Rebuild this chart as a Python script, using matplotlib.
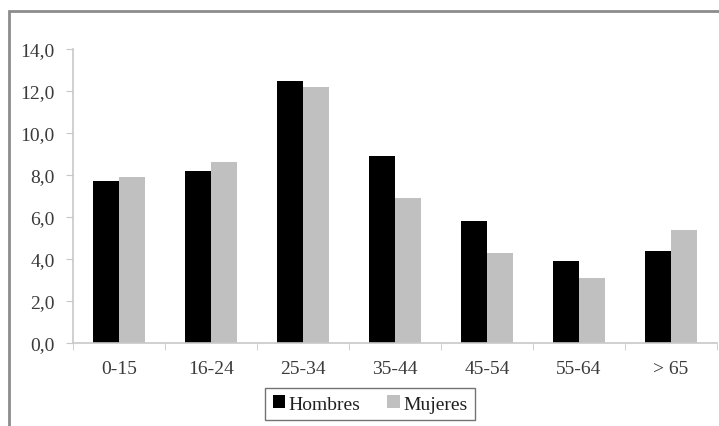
import matplotlib.pyplot as plt
import numpy as np
from matplotlib.patches import Rectangle

grupos = ['0-15', '16-24', '25-34', '35-44', '45-54', '55-64', '> 65']
hombres = [7.7, 8.2, 12.5, 8.9, 5.8, 3.9, 4.4]
mujeres = [7.9, 8.6, 12.2, 6.9, 4.3, 3.1, 5.4]
yticks = [0, 2, 4, 6, 8, 10, 12, 14]

plt.rcParams['font.family'] = ['Liberation Serif', 'DejaVu Serif']

W, H = 719, 427
fig = plt.figure(figsize=(W / 100, H / 100), dpi=100)
ax = fig.add_axes([73 / W, 1 - 344 / H, (717 - 73) / W, (344 - 50) / H])

x = np.arange(len(grupos))
w = 0.285
ax.bar(x - w / 2, hombres, w, color='black', label='Hombres')
ax.bar(x + w / 2, mujeres, w, color='#c0c0c0', label='Mujeres')

ax.set_xlim(-0.5, len(grupos) - 0.5)
ax.set_ylim(0, 14)
ax.set_yticks(yticks)
ax.set_yticklabels([f'{v:.1f}'.replace('.', ',') for v in yticks])
ax.set_xticks(x)
ax.set_xticklabels(grupos)
ax.set_xticks(np.arange(len(grupos) + 1) - 0.5, minor=True)

for s in ['top', 'right']:
    ax.spines[s].set_visible(False)
for s in ['left', 'bottom']:
    ax.spines[s].set_color('#c8c8c8')
    ax.spines[s].set_linewidth(1.2)

ax.tick_params(axis='y', colors='#c8c8c8', labelcolor='#3a3a3a', length=5,
               labelsize=14, pad=8)
ax.tick_params(axis='x', which='major', length=0, labelcolor='#3a3a3a',
               labelsize=14, pad=12)
ax.tick_params(axis='x', which='minor', length=5, color='#c8c8c8')

leg = fig.legend(loc='center', bbox_to_anchor=(370 / W, 1 - 405 / H), ncol=2,
                 frameon=True, fancybox=False, fontsize=14,
                 handlelength=0.65, handleheight=0.65, handletextpad=0.15,
                 columnspacing=1.4, borderpad=0.4, borderaxespad=0)
leg.get_frame().set_edgecolor('#505050')
leg.get_frame().set_linewidth(1.0)
for t in leg.get_texts():
    t.set_color('#202020')

# marco exterior del gráfico
fig.patches.append(Rectangle((9 / W, -0.1), 1.2, 1 - 12 / H + 0.1,
                             transform=fig.transFigure, fill=False,
                             edgecolor='#8c8c8c', linewidth=2))

fig.savefig('out.png', dpi=100)
